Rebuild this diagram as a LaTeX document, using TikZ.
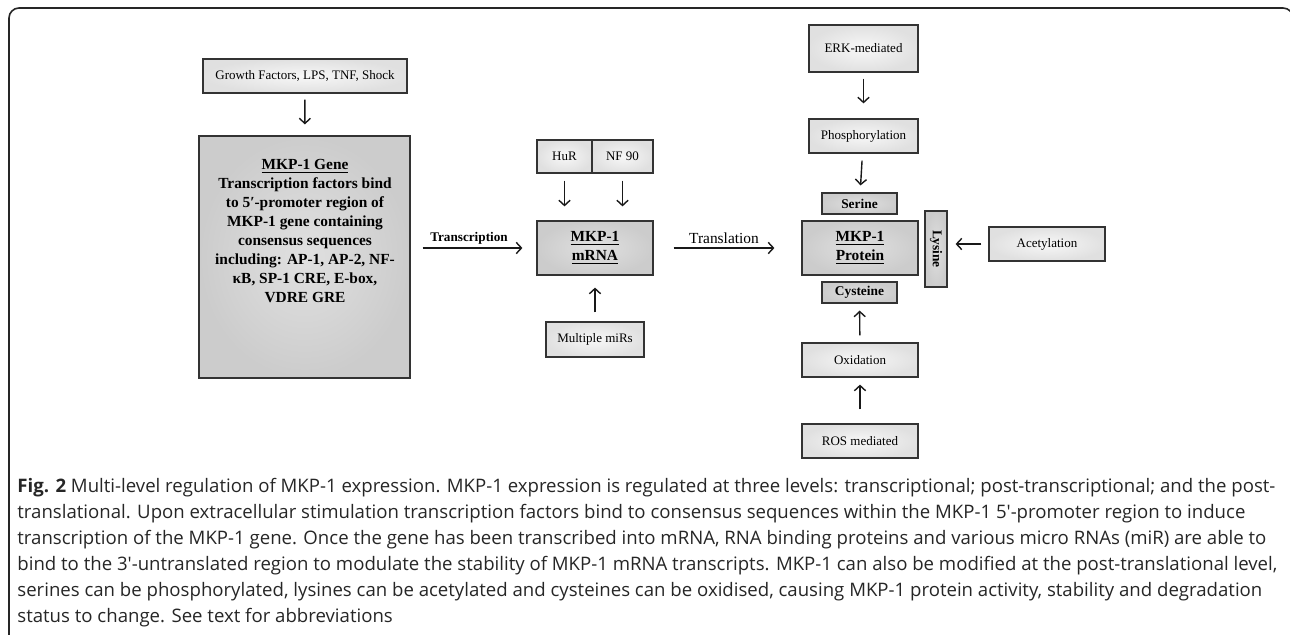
\documentclass[tikz,border=0pt]{standalone}
\usepackage{fontspec}
\setmainfont{Liberation Serif}
\newfontfamily\capfont{Open Sans}
\usetikzlibrary{arrows.meta,calc}

\begin{document}
\begin{tikzpicture}[x=0.5pt,y=-0.5pt,
  lightbox/.style={draw=black!80,line width=0.6pt,shading=radial,inner color=gray!6,outer color=gray!24,
    font=\fontsize{6.5}{8}\selectfont,inner sep=0pt},
  darkbox/.style={lightbox,inner color=gray!24,outer color=gray!40,font=\fontsize{7.7}{9.5}\selectfont\bfseries},
  tagbox/.style={darkbox,font=\fontsize{6.7}{8}\selectfont\bfseries},
  arr/.style={-{Straight Barb[length=2.6pt,width=5.6pt]},line width=0.7pt,black!90},
]
\useasboundingbox (0,0) rectangle (1290,634);

% frame
\draw[line width=0.8pt,black!85,rounded corners=5pt] (9,650) -- (9,8) -- (1293,8) -- (1293,650);

% transcriptional level
\node[lightbox,minimum width=102pt,minimum height=17pt] (growth) at (305,76) {Growth Factors, LPS, TNF, Shock};
\node[darkbox,minimum width=105.5pt,minimum height=121pt] (gene) at (304.5,257) {};
\node[align=center,font=\fontsize{7.7}{9.5}\selectfont\bfseries,inner sep=0pt] (genetxt) at (305,231)
  {\underline{MKP-1 Gene}\\Transcription factors bind\\to 5′-promoter region of\\MKP-1 gene containing\\
   consensus sequences\\including: AP-1, AP-2, NF-\\κB, SP-1 CRE, E-box,\\VDRE GRE};
\draw[arr,shorten <=3pt,shorten >=5.5pt] (growth) -- (gene);

% post-transcriptional level
\node[lightbox,minimum width=27.5pt,minimum height=16.5pt] (hur) at (564.5,156.5) {HuR};
\node[lightbox,minimum width=30.5pt,minimum height=16.5pt] (nf90) at (622.5,156.5) {NF 90};
\node[darkbox,minimum width=58pt,minimum height=27pt,align=center] (mrna) at (595,248) {\underline{MKP-1}\\\underline{mRNA}};
\node[lightbox,minimum width=49pt,minimum height=17.5pt] (mirs) at (595,339.5) {Multiple miRs};
\draw[arr,shorten <=3.5pt,shorten >=7pt] (hur) -- (hur |- mrna.north);
\draw[arr,shorten <=3.5pt,shorten >=7pt] (nf90) -- (nf90 |- mrna.north);
\draw[arr,shorten <=4.5pt,shorten >=6pt] (mirs) -- (mrna);
\draw[arr,shorten <=6pt,shorten >=7pt] (gene.east |- mrna.west) -- (mrna.west);
\node[font=\fontsize{6.6}{8}\selectfont\bfseries] (trlab) at (469,238) {Transcription};

% post-translational level
\node[lightbox,minimum width=54.5pt,minimum height=23.5pt] (erk) at (863.5,48.5) {ERK-mediated};
\node[lightbox,minimum width=54.5pt,minimum height=17pt] (phos) at (863.5,136) {Phosphorylation};
\node[tagbox,minimum width=37.5pt,minimum height=10.5pt] (serine) at (859.5,203.5) {Serine};
\node[darkbox,minimum width=58pt,minimum height=27pt,align=center] (protein) at (860,248) {\underline{MKP-1}\\\underline{Protein}};
\node[tagbox,minimum width=37.5pt,minimum height=10.5pt] (cyst) at (859.5,292.5) {Cysteine};
\node[tagbox,rotate=-90,minimum width=38pt,minimum height=11pt] (lysine) at (936,249) {Lysine};
\node[lightbox,minimum width=58pt,minimum height=17pt] (acet) at (1047,244) {Acetylation};
\node[lightbox,minimum width=58pt,minimum height=17pt] (oxid) at (860,360) {Oxidation};
\node[lightbox,minimum width=58pt,minimum height=17pt] (ros) at (860,441) {ROS mediated};
\draw[arr,shorten <=10pt,shorten >=13.5pt] (mrna) -- (protein);
\node[font=\fontsize{7.7}{9}\selectfont] (tllab) at (724,238) {Translation};
\draw[arr,shorten <=3pt,shorten >=7.5pt] (erk) -- (phos);
\draw[arr,shorten <=3.5pt,shorten >=3.5pt] (phos) -- (serine);
\draw[arr,shorten <=3.5pt,shorten >=3.5pt] (oxid) -- (cyst);
\draw[arr,shorten <=7pt,shorten >=3.5pt] (ros) -- (oxid);
\draw[arr,shorten <=3.5pt,shorten >=4pt] (acet.west) -- (acet.west -| lysine.north);

% caption
\node[anchor=north west,align=left,inner sep=0pt,text=black!85,font=\capfont\fontsize{9.3}{13}\selectfont] (caption) at (17,478)
  {\textbf{Fig. 2} Multi-level regulation of MKP-1 expression. MKP-1 expression is regulated at three levels: transcriptional; post-transcriptional; and the post-\\
   translational. Upon extracellular stimulation transcription factors bind to consensus sequences within the MKP-1 5′-promoter region to induce\\
   transcription of the MKP-1 gene. Once the gene has been transcribed into mRNA, RNA binding proteins and various micro RNAs (miR) are able to\\
   bind to the 3′-untranslated region to modulate the stability of MKP-1 mRNA transcripts. MKP-1 can also be modified at the post-translational level,\\
   serines can be phosphorylated, lysines can be acetylated and cysteines can be oxidised, causing MKP-1 protein activity, stability and degradation\\
   status to change. See text for abbreviations};
\end{tikzpicture}
\end{document}
